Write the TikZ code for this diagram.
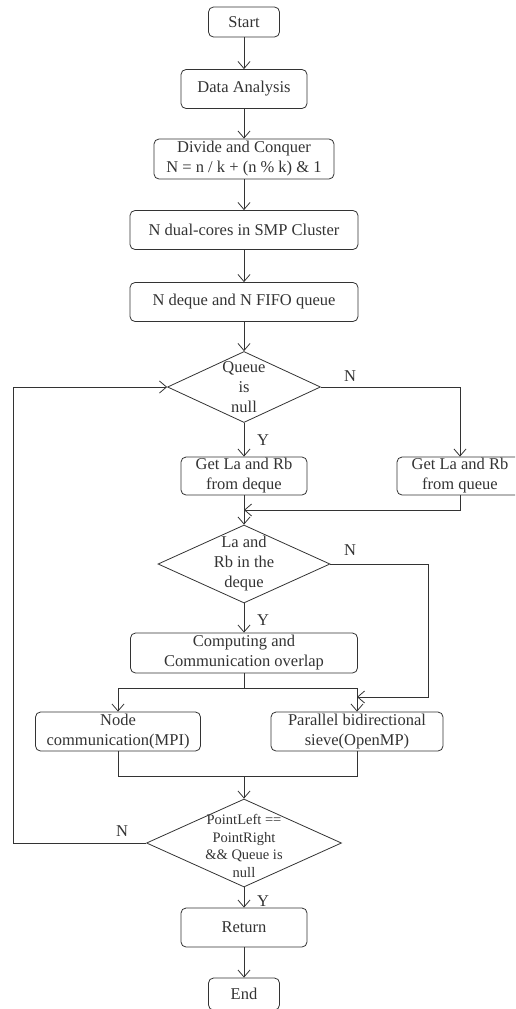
\documentclass[tikz,border=0pt]{standalone}
\usepackage{fontspec}
\setmainfont{Liberation Serif}
\usetikzlibrary{shapes.geometric,arrows.meta}
\begin{document}
\begin{tikzpicture}[x=1pt,y=-1pt,line width=0.8pt,color=black!80,
  >={Straight Barb[length=7pt,width=12pt]},
  every node/.style={font=\fontsize{16.5}{20}\selectfont},
  box/.style={draw,rounded corners=5pt,align=center,inner sep=0pt},
  dec/.style={draw,diamond,inner sep=0pt}]
\clip(0,0)rectangle(515,1009);
\node[box,minimum width=71,minimum height=30](start)at(244,22){Start};
\node[box,minimum width=126,minimum height=39](ana)at(244,89){Data Analysis};
\node[box,minimum width=180,minimum height=40](div)at(244,159){Divide and Conquer\\N = n / k + (n \% k) \& 1};
\node[box,minimum width=228,minimum height=39](smp)at(244,230){N dual-cores in SMP Cluster};
\node[box,minimum width=228,minimum height=39](dq)at(244,302){N deque and N FIFO queue};
\node[dec,minimum width=153,minimum height=71,label={[align=center]center:Queue\\is\\null}](q1)at(244,387){};
\node[box,minimum width=126,minimum height=38](gd)at(244,476){Get La and Rb\\from deque};
\node[box,minimum width=126,minimum height=38](gq)at(460,476){Get La and Rb\\from queue};
\node[dec,minimum width=172,minimum height=78,label={[align=center]center:La and\\Rb in the\\deque}](d2)at(244,564){};
\node[box,minimum width=227,minimum height=40](comp)at(244,653){Computing and\\Communication overlap};
\node[box,minimum width=165,minimum height=39](nb)at(118,731.5){Node\\communication(MPI)};
\node[box,minimum width=172,minimum height=39](par)at(357,731.5){Parallel bidirectional\\sieve(OpenMP)};
\node[dec,minimum width=195,minimum height=88,label={[align=center,yshift=-3pt,font=\fontsize{14.5}{17.5}\selectfont]center:PointLeft ==\\PointRight\\\&\& Queue is\\null}](d3)at(244,843){};
\node[box,minimum width=126,minimum height=39](ret)at(244,927.5){Return};
\node[box,minimum width=71,minimum height=32](end)at(244,994){End};
\coordinate(j1)at(244,510);
\coordinate(r2)at(428,0);
\coordinate(j2)at(357,697);
\coordinate(sp)at(244,688);
\coordinate(mg)at(244,776);
\coordinate(lp)at(13,0);
\draw[->](start)--(ana);
\draw[->](ana)--(div);
\draw[->](div)--(smp);
\draw[->](smp)--(dq);
\draw[->](dq)--(q1);
\draw[->](q1)--(gd);
\draw[->](q1.east)-|(gq.north);
\draw[->](gq.south)|-(j1);
\draw[->](gd)--(d2);
\draw[->](d2)--(comp);
\draw[->](d2.east)--(d2.east-|r2)|-(j2);
\draw(comp)--(sp);
\draw[->](sp)-|(nb.north);
\draw[->](sp)-|(par.north);
\draw(nb.south)|-(mg)-|(par.south);
\draw[->](mg)--(d3);
\draw[->](d3)--(ret);
\draw[->](d3.west)--(d3.west-|lp)|-(q1.west);
\draw[->](ret)--(end);
\node(yq)at(263,440){Y};
\node(nq)at(350,376){N};
\node(yd)at(263,620){Y};
\node(nd)at(350,550){N};
\node(np)at(122,831){N};
\node(yp)at(263,901){Y};
\end{tikzpicture}
\end{document}
